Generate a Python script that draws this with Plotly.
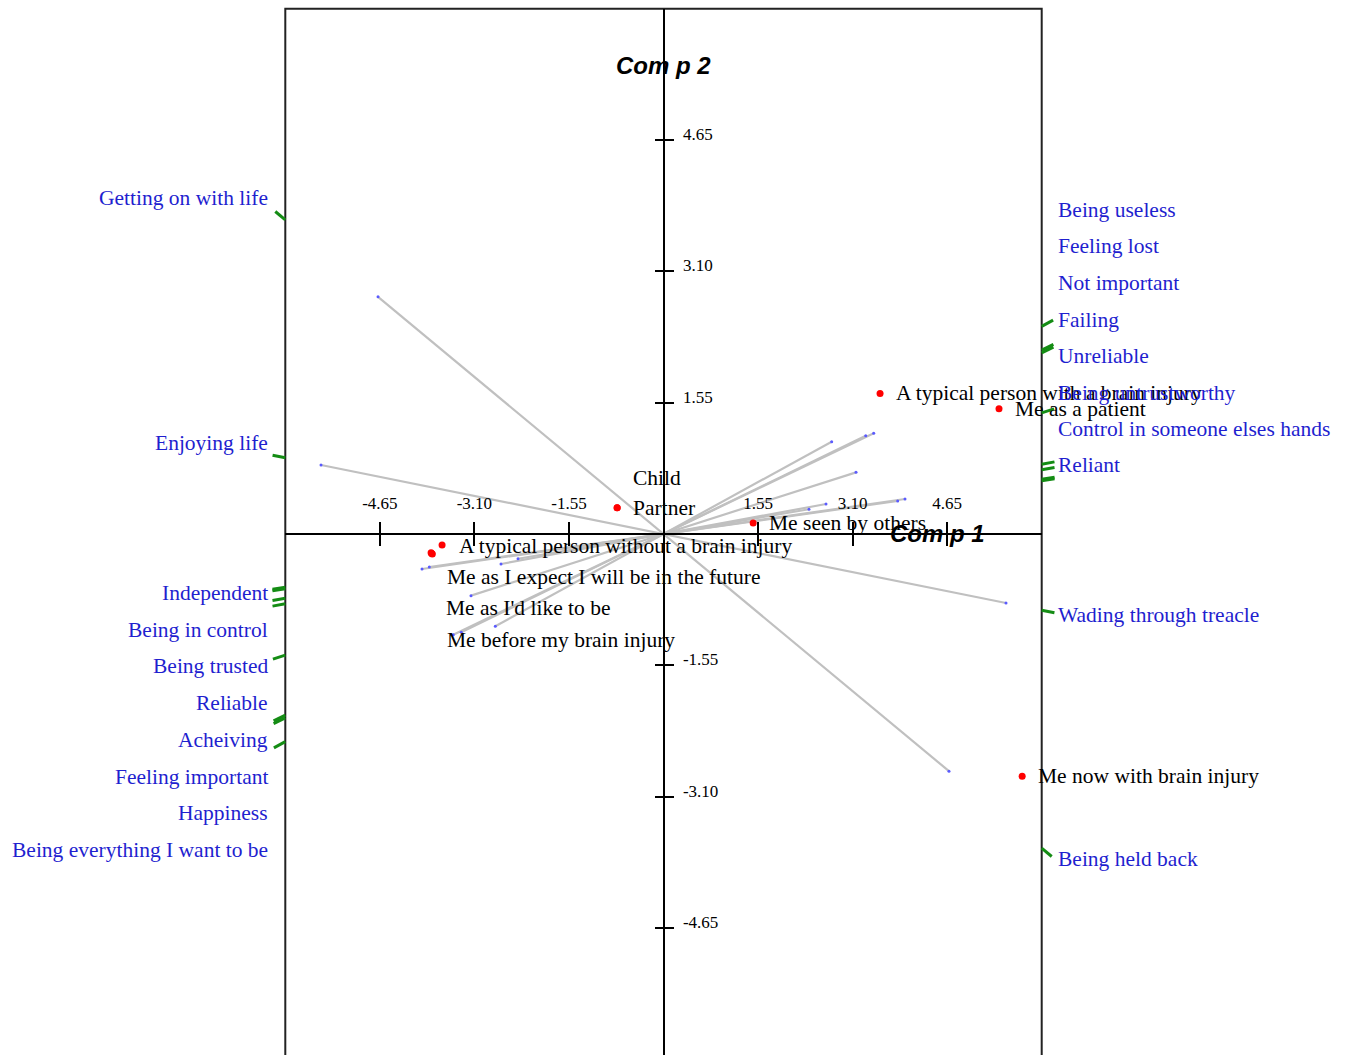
import math
import plotly.graph_objects as go

# ---------------- data ----------------
element_names = [
    "A typical person with a brain injury",
    "Me as a patient",
    "Child",
    "Partner",
    "A typical person without a brain injury",
    "Me as I expect I will be in the future",
    "Me as I'd like to be",
    "Me before my brain injury",
    "Me seen by others",
    "Me now with brain injury",
]
element_x = [3.55, 5.50, -0.76, -0.76, -3.63, -3.80, -3.81, -3.79, 1.47, 5.88]
element_y = [1.66, 1.48, 0.31, 0.31, -0.13, -0.23, -0.22, -0.235, 0.13, -2.86]

construct_left = ["Getting on with life", "Enjoying life", "Acheiving", "Reliable",
                  "Feeling important", "Being trusted", "Independent", "Being in control",
                  "Happiness", "Being everything I want to be"]
construct_right = ["Being held back", "Wading through treacle", "Failing", "Unreliable",
                   "Not important", "Being untrustworthy", "Reliant",
                   "Control in someone elses hands", "Feeling lost", "Being useless"]
# right-pole vector end points (the left pole is the mirror image)
construct_x = [4.68, 5.615, 2.757, 3.315, 3.446, 3.156, 3.839, 3.959, 2.385, 2.664]
construct_y = [-2.80, -0.815, 1.090, 1.161, 1.189, 0.728, 0.390, 0.413, 0.292, 0.354]

tick_values = [-4.65, -3.10, -1.55, 1.55, 3.10, 4.65]
tick_labels = [f"{v:.2f}" for v in tick_values]

axis_title_x = "Com p 1"
axis_title_y = "Com p 2"

# ---------------- layout / style constants ----------------
W, H = 1347, 1055
OX, OY = 663.5, 534.0      # pixel position of the origin
SX, SY = 61.0, 84.7        # pixels per unit
BOX = 6.2                  # half size of the frame in data units

def px_to_x(p):
    return (p - OX) / SX

def py_to_y(p):
    return (OY - p) / SY

full_x = [px_to_x(0), px_to_x(W)]
full_y = [py_to_y(H), py_to_y(0)]
box_xdom = [(OX - BOX * SX) / W, (OX + BOX * SX) / W]
box_ydom = [0, (H - (OY - BOX * SY)) / H]
box_yrange = [py_to_y(H), BOX]

# label slots (pixel rows) for the construct poles
left_slot_px = {"Getting on with life": 198, "Enjoying life": 443, "Independent": 593,
                "Being in control": 630, "Being trusted": 666, "Reliable": 703,
                "Acheiving": 740, "Feeling important": 777, "Happiness": 813,
                "Being everything I want to be": 850}
right_slot_px = {"Being useless": 210, "Feeling lost": 246, "Not important": 283,
                 "Failing": 320, "Unreliable": 356, "Being untrustworthy": 393,
                 "Control in someone elses hands": 429, "Reliant": 465,
                 "Wading through treacle": 615, "Being held back": 859}
LEFT_LABEL_PX = 270
RIGHT_LABEL_PX = 1056

# element label offsets in pixels (dx right, dy down)
element_label_offset = [(14, 0), (14, 0), (14, -30), (14, 0), (15, 1),
                        (13, 24), (13, 55), (13, 86), (14, 0), (14, 0)]

SERIF = "Liberation Serif, Times New Roman, serif"
SANS = "Liberation Sans, Arial, sans-serif"
BLUE = "#1f1fcf"
GREEN = "#148c14"
GREY = "#c0c0c0"

fig = go.Figure()

# construct vectors (through the origin, both poles)
lx, ly = [], []
for vx, vy in zip(construct_x, construct_y):
    lx += [-vx, vx, None]
    ly += [-vy, vy, None]
fig.add_trace(go.Scatter(x=lx, y=ly, mode="lines", line=dict(color=GREY, width=2.2),
                         hoverinfo="skip"))
fig.add_trace(go.Scatter(x=[-v for v in construct_x] + construct_x,
                         y=[-v for v in construct_y] + construct_y,
                         mode="markers", marker=dict(color="#5a5aff", size=3),
                         hoverinfo="skip"))

# green pole markers just outside the frame
gx, gy = [], []
for vx, vy in zip(construct_x, construct_y):
    for s in (-1, 1):
        dx, dy = s * vx, s * vy
        t = min(BOX / abs(dx) if dx else 1e9, BOX / abs(dy) if dy else 1e9)
        hx, hy = dx * t, dy * t
        L = math.hypot(hx * SX, hy * SY)
        k = 1 + 13.0 / L
        gx += [hx, hx * k, None]
        gy += [hy, hy * k, None]
fig.add_trace(go.Scatter(x=gx, y=gy, mode="lines", line=dict(color=GREEN, width=3),
                         hoverinfo="skip"))

# elements
fig.add_trace(go.Scatter(x=element_x, y=element_y, mode="markers",
                         marker=dict(color="#ff0000", size=7), hoverinfo="skip",
                         cliponaxis=False))

# empty traces to create the crossing axes subplots
fig.add_trace(go.Scatter(x=[], y=[], xaxis="x2", yaxis="y2"))
fig.add_trace(go.Scatter(x=[], y=[], xaxis="x3", yaxis="y3"))

annotations = []
for name, ex, ey, (odx, ody) in zip(element_names, element_x, element_y, element_label_offset):
    annotations.append(dict(x=ex, y=ey, xref="x", yref="y", text=name, showarrow=False,
                            xanchor="left", yanchor="middle", xshift=odx, yshift=-ody,
                            font=dict(family=SERIF, size=21.5, color="black")))
for name in construct_left:
    annotations.append(dict(x=px_to_x(LEFT_LABEL_PX), y=py_to_y(left_slot_px[name]),
                            xref="x", yref="y", text=name, showarrow=False,
                            xanchor="right", yanchor="middle",
                            font=dict(family=SERIF, size=21.5, color=BLUE)))
for name in construct_right:
    annotations.append(dict(x=px_to_x(RIGHT_LABEL_PX), y=py_to_y(right_slot_px[name]),
                            xref="x", yref="y", text=name, showarrow=False,
                            xanchor="left", yanchor="middle",
                            font=dict(family=SERIF, size=21.5, color=BLUE)))
annotations.append(dict(x=0, y=py_to_y(65), xref="x", yref="y", text=axis_title_y,
                        showarrow=False, xanchor="center", yanchor="middle",
                        font=dict(family=SANS, size=24, color="black",
                                  weight="bold", style="italic")))
annotations.append(dict(x=px_to_x(937), y=py_to_y(533), xref="x", yref="y", text=axis_title_x,
                        showarrow=False, xanchor="center", yanchor="middle",
                        font=dict(family=SANS, size=24, color="black",
                                  weight="bold", style="italic")))

tickfont = dict(family=SERIF, size=17, color="black")
common_x = dict(domain=box_xdom, range=[-BOX, BOX], anchor="free", position=(H - OY) / H,
                side="top", showgrid=False, zeroline=False, tickvals=tick_values,
                ticktext=tick_labels, tickwidth=2, tickcolor="black", ticklen=11,
                fixedrange=True)
common_y = dict(domain=box_ydom, range=box_yrange, anchor="free", position=OX / W,
                side="right", showgrid=False, zeroline=False, tickvals=tick_values,
                ticktext=tick_labels, tickwidth=2, tickcolor="black", ticklen=9,
                fixedrange=True)

fig.update_layout(
    width=W, height=H, margin=dict(l=0, r=0, t=0, b=0),
    paper_bgcolor="white", plot_bgcolor="rgba(0,0,0,0)", showlegend=False,
    xaxis=dict(domain=[0, 1], range=full_x, visible=False, fixedrange=True),
    yaxis=dict(domain=[0, 1], range=full_y, visible=False, fixedrange=True),
    xaxis2=dict(**common_x, showline=True, linecolor="black", linewidth=2, ticks="outside",
                tickfont=tickfont, ticklabelstandoff=6),
    yaxis2=dict(**common_y, showline=True, linecolor="black", linewidth=2, ticks="outside",
                tickfont=tickfont, ticklabelstandoff=6, ticklabelshift=-6),
    xaxis3=dict(**common_x, showline=False, ticks="inside", showticklabels=False),
    yaxis3=dict(**common_y, showline=False, ticks="inside", showticklabels=False),
    annotations=annotations,
    shapes=[dict(type="rect", xref="x", yref="y", x0=-BOX, x1=BOX, y0=full_y[0] - 1, y1=BOX,
                 line=dict(color="#222222", width=2), layer="below")],
)

fig.write_html("out.html", config={"displayModeBar": False},
               post_script="document.body.style.margin='0';document.body.style.overflow='hidden';")
